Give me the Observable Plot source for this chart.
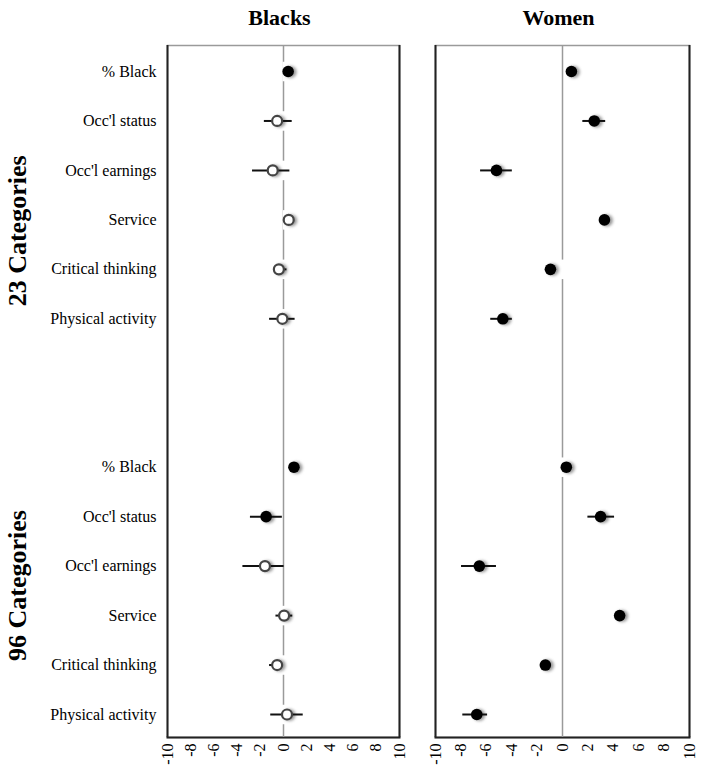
<!DOCTYPE html>
<html>
<head>
<meta charset="utf-8">
<script src="https://cdn.jsdelivr.net/npm/d3@7"></script>
<script src="https://cdn.jsdelivr.net/npm/@observablehq/plot@0.6"></script>
<style>
  html, body { margin: 0; padding: 0; background: white; }
  #wrap { position: relative; width: 704px; height: 777px; }
  #wrap svg { position: absolute; left: 0; top: 0; }
</style>
</head>
<body>
<div id="wrap"></div>
<script>
// ---- data ----
const rows = ["% Black", "Occ'l status", "Occ'l earnings", "Service", "Critical thinking", "Physical activity"];
const groups = ["23 Categories", "96 Categories"];
const panels = ["Blacks", "Women"];
const xTicks = [-10, -8, -6, -4, -2, 0, 2, 4, 6, 8, 10];

// Blacks, 23 categories
const blacks23Est = [0.4, -0.55, -0.93, 0.45, -0.4, -0.1];
const blacks23Lo  = [0.2, -1.65, -2.67, 0.2, -0.85, -1.2];
const blacks23Hi  = [0.6, 0.75, 0.55, 0.7, 0.3, 1.0];
const blacks23Sig = [true, false, false, false, false, false];
// Blacks, 96 categories
const blacks96Est = [0.9, -1.5, -1.6, 0.05, -0.55, 0.3];
const blacks96Lo  = [0.7, -2.85, -3.5, -0.65, -1.2, -1.1];
const blacks96Hi  = [1.1, -0.1, 0.05, 0.8, 0.0, 1.7];
const blacks96Sig = [true, true, false, false, false, false];
// Women, 23 categories
const women23Est = [0.7, 2.5, -5.2, 3.3, -0.95, -4.7];
const women23Lo  = [0.5, 1.6, -6.45, 3.1, -1.15, -5.65];
const women23Hi  = [0.9, 3.4, -3.95, 3.5, -0.75, -3.95];
const women23Sig = [true, true, true, true, true, true];
// Women, 96 categories
const women96Est = [0.3, 3.0, -6.55, 4.5, -1.35, -6.75];
const women96Lo  = [0.1, 2.0, -7.95, 4.3, -1.55, -7.85];
const women96Hi  = [0.5, 4.1, -5.2, 4.7, -1.15, -5.9];
const women96Sig = [true, true, true, true, true, true];

// ---- build tables ----
const key = (g, r) => g.slice(0, 2) + "|" + r;
const yDomain = [...rows.map(r => key(groups[0], r)), "gap1", "gap2", ...rows.map(r => key(groups[1], r))];

function table(est23, lo23, hi23, sig23, est96, lo96, hi96, sig96) {
  const out = [];
  rows.forEach((r, i) => out.push({key: key(groups[0], r), est: est23[i], lo: lo23[i], hi: hi23[i], sig: sig23[i]}));
  rows.forEach((r, i) => out.push({key: key(groups[1], r), est: est96[i], lo: lo96[i], hi: hi96[i], sig: sig96[i]}));
  return out;
}
const blacksData = table(blacks23Est, blacks23Lo, blacks23Hi, blacks23Sig, blacks96Est, blacks96Lo, blacks96Hi, blacks96Sig);
const womenData  = table(women23Est, women23Lo, women23Hi, women23Sig, women96Est, women96Lo, women96Hi, women96Sig);

const W = 704, H = 777;
const serif = "'Liberation Serif', 'Times New Roman', Times, serif";

function panel(data, title, left, right, showY) {
  const marks = [
    Plot.frame({stroke: "#9a9a9a", strokeWidth: 1.5}),
    Plot.ruleX([-10, 10], {stroke: "#222", strokeWidth: 2}),
    Plot.frame({anchor: "bottom", stroke: "#222", strokeWidth: 2}),
    Plot.ruleX([0], {stroke: "#9a9a9a", strokeWidth: 1.5}),
    Plot.dot(data, {x: "est", y: "key", symbol: "square", r: 11, fill: "white", dx: 4}),
    Plot.dot(data, {x: "est", y: "key", r: 6, fill: "#999", dx: 2.5, dy: 0.5}),
    Plot.ruleY(data, {y: "key", x1: "lo", x2: "hi", stroke: "#111", strokeWidth: 2}),
    Plot.dot(data.filter(d => d.sig), {x: "est", y: "key", r: 5.8, fill: "#000"}),
    Plot.dot(data.filter(d => !d.sig), {x: "est", y: "key", r: 5, fill: "white", stroke: "#444", strokeWidth: 2.2}),
    Plot.text([title], {frameAnchor: "top", lineAnchor: "middle", dy: -28, dx: -4, fontWeight: "bold", fontSize: 22, fill: "#000"})
  ];
  if (showY) {
    marks.push(Plot.text([groups[0]], {y: () => key(groups[0], "Service"), frameAnchor: "left", textAnchor: "middle", lineAnchor: "middle", dx: -150, dy: 11, rotate: -90, fontWeight: "bold", fontSize: 26, fill: "#000"}));
    marks.push(Plot.text([groups[1]], {y: () => key(groups[1], "Service"), frameAnchor: "left", textAnchor: "middle", lineAnchor: "middle", dx: -150, dy: -30, rotate: -90, fontWeight: "bold", fontSize: 26, fill: "#000"}));
  }
  const svg = Plot.plot({
    width: W, height: H,
    marginTop: 45, marginBottom: 40, marginLeft: left, marginRight: W - right,
    style: {fontFamily: serif, fontSize: "16px", background: "transparent", color: "#000", overflow: "visible"},
    x: {domain: [-10, 10], ticks: xTicks, tickFormat: d => String(d), tickRotate: -90, tickSize: 0, tickPadding: 6, label: null},
    y: {type: "point", domain: yDomain, range: [71, 714], padding: 0, round: false, tickSize: 0, tickPadding: 11, label: null,
        axis: showY ? "left" : null,
        tickFormat: d => d.startsWith("gap") ? "" : d.split("|")[1]},
    marks
  });
  // blur the shadow dots
  const dots = svg.querySelectorAll('g[aria-label="dot"]');
  if (dots[1]) dots[1].style.filter = "blur(1.6px)";
  const xl = svg.querySelector('g[aria-label="x-axis tick label"]');
  if (xl) xl.setAttribute("font-size", "16");
  return svg;
}

const wrap = document.getElementById("wrap");
wrap.appendChild(panel(blacksData, panels[0], 167, 399, true));
wrap.appendChild(panel(womenData, panels[1], 435, 689, false));
</script>
</body>
</html>
